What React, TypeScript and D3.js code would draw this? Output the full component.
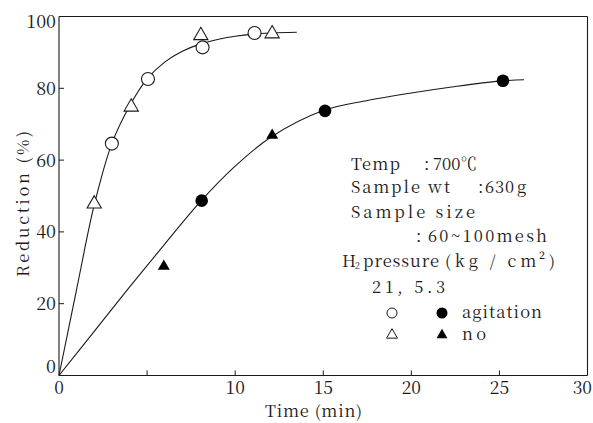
import React from "react";
import * as d3 from "d3";

// ---- data ----
const xTicks = [0, 5, 10, 15, 20, 25, 30];
const xTickLabels = ["0", "", "10", "15", "20", "25", "30"];
const yTicks = [0, 20, 40, 60, 80, 100];
const yTickLabels = ["0", "20", "40", "60", "80", "100"];

// 21 kg/cm2, agitation (open circles)
const openCircleT = [3.0, 5.05, 8.15, 11.1];
const openCircleR = [64.6, 82.6, 91.4, 95.4];
// 21 kg/cm2, no agitation (open triangles)
const openTriT = [2.0, 4.1, 8.05, 12.1];
const openTriR = [47.8, 74.8, 94.7, 95.2];
// 5.3 kg/cm2, agitation (filled circles)
const fillCircleT = [8.1, 15.1, 25.2];
const fillCircleR = [48.7, 73.7, 82.1];
// 5.3 kg/cm2, no agitation (filled triangles)
const fillTriT = [5.95, 12.1];
const fillTriR = [30.4, 66.9];

// fitted curves
const upperCurveT = [0, 1, 2, 3, 4, 5, 6, 7, 8, 9, 10, 11, 12, 13.5];
const upperCurveR = [0, 24, 47.5, 64.6, 75, 82.6, 87.3, 90.3, 92.3, 93.6, 94.5, 95.1, 95.4, 95.6];
const lowerCurveT = [0, 2, 4, 6, 8, 10, 12, 15, 17.5, 20, 22.5, 25, 26.4];
const lowerCurveR = [0, 12.3, 24.6, 36.6, 48.3, 58.3, 66.3, 73.8, 76.6, 78.7, 80.5, 82, 82.4];

const W = 593;
const H = 423;
const INK = "#1a1a1a";
const ff: React.CSSProperties = { fontFamily: "Noto Serif CJK JP" };

export default function App() {
  const x = d3.scaleLinear().domain([0, 30]).range([59, 587.5]);
  const y = d3.scaleLinear().domain([0, 100]).range([375.5, 16.5]);

  const line = d3
    .line<[number, number]>()
    .x((d) => x(d[0]))
    .y((d) => y(d[1]))
    .curve(d3.curveCatmullRom.alpha(0.5));

  const upper = line(upperCurveT.map((t, i) => [t, upperCurveR[i]]) as [number, number][]) || "";
  const lower = line(lowerCurveT.map((t, i) => [t, lowerCurveR[i]]) as [number, number][]) || "";

  const tri = d3.symbol(d3.symbolTriangle, 88)() || "";
  const triSmall = d3.symbol(d3.symbolTriangle, 62)() || "";
  const triLegend = d3.symbol(d3.symbolTriangle, 52)() || "";

  const x0 = x(0);
  const x1 = x(30);
  const yb = y(0);
  const yt = y(100);

  const T = (props: any) => (
    <text style={ff} fontSize={16.5} fill={INK} lengthAdjust="spacing" {...props} />
  );

  return (
    <svg width={W} height={H} viewBox={`0 0 ${W} ${H}`} style={{ position: "absolute", left: 0, top: 0, background: "#fff" }}>
      <rect x={0} y={0} width={W} height={H} fill="#fff" />
      {/* frame */}
      <g stroke={INK} strokeWidth={1.1} fill="none">
        <line x1={x0} y1={yt} x2={x1} y2={yt} />
        <line x1={x1} y1={yt} x2={x1} y2={yb} />
        <line x1={x0} y1={yt} x2={x0} y2={yb} />
        <line x1={x0} y1={yb} x2={x1} y2={yb} />
      </g>
      {/* x ticks */}
      <g stroke={INK} strokeWidth={1}>
        {xTicks.slice(1, -1).map((t) => (
          <line key={t} x1={x(t)} x2={x(t)} y1={yb} y2={yb - 5} />
        ))}
      </g>
      {xTicks.map((t, i) =>
        xTickLabels[i] ? (
          <text
            key={"xl" + t}
            style={ff}
            fontSize={17.5}
            fill={INK}
            textAnchor={t === 30 ? "end" : "middle"}
            x={t === 30 ? 592 : x(t)}
            y={393.5}
          >
            {xTickLabels[i]}
          </text>
        ) : null
      )}
      {/* y ticks */}
      <g stroke={INK} strokeWidth={1}>
        {yTicks.slice(1, -1).map((t) => (
          <line key={t} x1={x0} x2={x0 + 5} y1={y(t)} y2={y(t)} />
        ))}
      </g>
      {yTicks.map((t, i) => {
        let yy = y(t) + 6.5;
        if (t === 100) yy = 28;
        if (t === 0) yy = 373;
        return (
          <text key={"yl" + t} style={ff} fontSize={18} fill={INK} textAnchor="end" x={56} y={yy}>
            {yTickLabels[i]}
          </text>
        );
      })}
      {/* axis titles */}
      <T x={265} y={416.5} textLength={97}>
        Time (min)
      </T>
      <T transform={`translate(29, 277) rotate(-90)`} textLength={146}>
        Reduction (%)
      </T>
      {/* curves */}
      <path d={upper} fill="none" stroke={INK} strokeWidth={1.1} />
      <path d={lower} fill="none" stroke={INK} strokeWidth={1.1} />
      {/* markers */}
      {openTriT.map((t, i) => (
        <path key={"ot" + i} d={tri} transform={`translate(${x(t)},${y(openTriR[i])})`} fill="#fff" stroke={INK} strokeWidth={1.1} />
      ))}
      {openCircleT.map((t, i) => (
        <circle key={"oc" + i} cx={x(t)} cy={y(openCircleR[i])} r={6.5} fill="#fff" stroke={INK} strokeWidth={1.1} />
      ))}
      {fillCircleT.map((t, i) => (
        <circle key={"fc" + i} cx={x(t)} cy={y(fillCircleR[i])} r={6.3} fill="#000" />
      ))}
      {fillTriT.map((t, i) => (
        <path key={"ft" + i} d={triSmall} transform={`translate(${x(t)},${y(fillTriR[i])})`} fill="#000" />
      ))}
      {/* annotation */}
      <T x={351} y={170} textLength={49}>Temp</T>
      <T x={424} y={170}>:</T>
      <T x={433} y={170} textLength={44}>700℃</T>
      <T x={351} y={193} textLength={99}>Sample wt</T>
      <T x={478} y={193}>:</T>
      <T x={485} y={193} textLength={29}>630</T>
      <T x={517} y={193}>g</T>
      <T x={351} y={218} textLength={124}>Sample size</T>
      <T x={416} y={242}>:</T>
      <T x={428} y={242} textLength={119}>60~100mesh</T>
      <T x={342} y={267}>H</T>
      <T x={355} y={269} fontSize={9}>2</T>
      <T x={363} y={267} textLength={76}>pressure</T>
      <T x={445} y={267} textLength={110}>(kg / cm²)</T>
      <T x={372} y={293} textLength={73}>21,  5.3</T>
      <T x={462} y={318} textLength={80}>agitation</T>
      <T x={462} y={340} textLength={24}>no</T>
      {/* legend symbols */}
      <circle cx={392} cy={313} r={5} fill="#fff" stroke={INK} strokeWidth={1} />
      <circle cx={442} cy={313} r={5.5} fill="#000" />
      <path d={triLegend} transform={`translate(392,335)`} fill="#fff" stroke={INK} strokeWidth={1} />
      <path d={triLegend} transform={`translate(442,335)`} fill="#000" />
    </svg>
  );
}
